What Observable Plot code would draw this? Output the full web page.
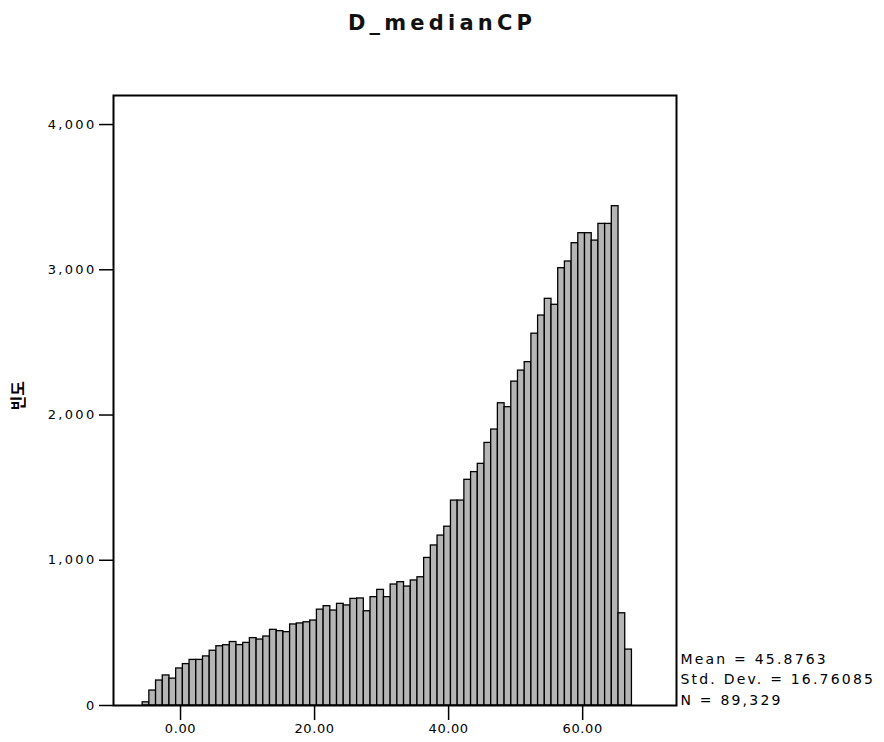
<!DOCTYPE html>
<html>
<head>
<meta charset="utf-8">
<script src="https://cdn.jsdelivr.net/npm/d3@7"></script>
<script src="https://cdn.jsdelivr.net/npm/@observablehq/plot@0.6"></script>
<style>
  html, body { margin: 0; padding: 0; background: #fff; }
  body { width: 884px; height: 742px; overflow: hidden; font-family: "DejaVu Sans", sans-serif; }
  #title { height: 47px; padding-top: 13px; box-sizing: content-box; text-align: center;
           font-size: 21px; font-weight: bold; line-height: 1; letter-spacing: 4.2px; color: #111; }
  g[aria-label="y-axis tick label"] text { letter-spacing: 2.3px; }
  g[aria-label="x-axis tick label"] text { letter-spacing: 0.6px; }
</style>
</head>
<body>
<div id="title">D_medianCP</div>
<div id="chart"></div>
<script>
// Histogram of D_medianCP: bins of width 1, first bin starts at -5.65
const binStart = -5.65;
const binWidth = 1;
const counts = [
  22, 103, 172, 207, 185, 255, 285, 314, 314, 338,
  377, 408, 415, 437, 416, 431, 464, 454, 475, 521,
  512, 505, 558, 565, 573, 585, 660, 684, 654, 700,
  689, 734, 737, 649, 746, 796, 746, 833, 849, 819,
  861, 883, 1016, 1102, 1170, 1231, 1411, 1411, 1554, 1607,
  1664, 1808, 1900, 2081, 2054, 2230, 2306, 2364, 2560, 2685,
  2800, 2759, 3011, 3057, 3183, 3252, 3252, 3201, 3316, 3316,
  3438, 635, 385
];
const xTicks = [0, 20, 40, 60];
const yTicks = [0, 1000, 2000, 3000, 4000];
const yLabel = "빈도";
const stats = ["Mean = 45.8763", "Std. Dev. = 16.76085", "N = 89,329"];

const bins = counts.map((c, i) => ({x1: binStart + i * binWidth, x2: binStart + (i + 1) * binWidth, count: c}));

const chart = Plot.plot({
  width: 884,
  height: 682,
  marginLeft: 113,
  marginRight: 208,
  marginTop: 35,
  marginBottom: 37,
  style: {fontFamily: '"DejaVu Sans", sans-serif', fontSize: "13px", background: "white", color: "black", overflow: "visible"},
  x: {domain: [-10, 74]},
  y: {domain: [0, 4200]},
  marks: [
    Plot.rect(bins, {x1: "x1", x2: "x2", y1: 0, y2: "count", fill: "#b5b5b5", stroke: "black", strokeWidth: 1.3}),
    Plot.frame({stroke: "black", strokeWidth: 2}),
    Plot.axisY(yTicks, {tickSize: 14, tickPadding: 3, tickFormat: d3.format(","), label: null, strokeWidth: 1.5}),
    Plot.axisX(xTicks, {tickSize: 15, tickPadding: 3, tickFormat: d3.format(".2f"), label: null, strokeWidth: 1.5}),
    Plot.text([yLabel], {text: d => d, frameAnchor: "left", dx: -95, dy: 10, rotate: -90,
      fontFamily: '"Noto Sans CJK KR", sans-serif', fontWeight: "bold", fontSize: 16, fill: "black"}),
    Plot.text([stats.join("\n")], {text: d => d, frameAnchor: "bottom-right", textAnchor: "start",
      lineAnchor: "bottom", lineHeight: 1.43, dx: 4, dy: -1, fontSize: 14, fill: "black"})
  ]
});
d3.select(chart).selectAll("text")
  .filter(function() { return this.textContent.startsWith("Mean"); })
  .style("letter-spacing", "2.2px");
document.getElementById("chart").appendChild(chart);
</script>
</body>
</html>
